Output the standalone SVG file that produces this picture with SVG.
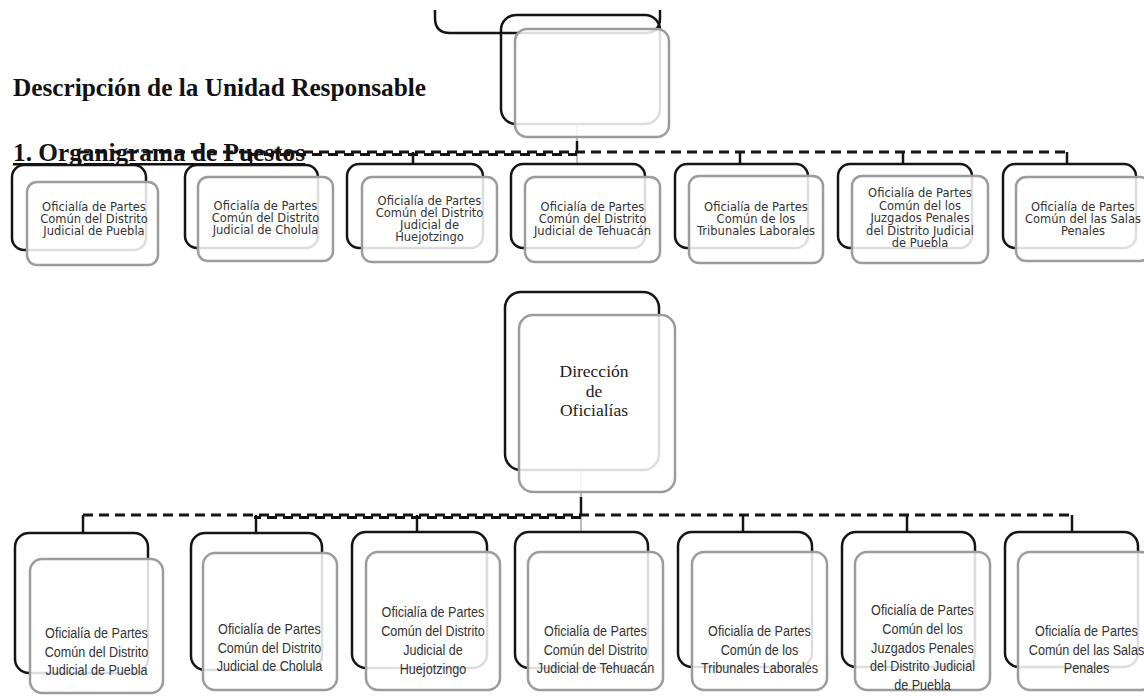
<svg xmlns="http://www.w3.org/2000/svg" width="1144" height="696" viewBox="0 0 1144 696">
<style>
.blk{fill:none;stroke:#141414;stroke-width:2.5}
.gry{fill:#fff;fill-opacity:0.86;stroke:#9c9c9c;stroke-width:2.5}
.dash{fill:none;stroke:#141414;stroke-width:3;stroke-dasharray:10 6}
.tick{stroke:#141414;stroke-width:2.5}
.faint{stroke:#bdbdbd;stroke-width:2}
.t1{font-family:"DejaVu Sans",sans-serif;font-size:11.5px;fill:#333;text-anchor:middle}
.t2{font-family:"Liberation Sans",Arial,sans-serif;font-size:14px;fill:#333;text-anchor:middle}
.tp{font-family:"Liberation Serif","Times New Roman",serif;font-size:17.5px;fill:#222;text-anchor:middle}
.h{font-family:"Liberation Serif","Times New Roman",serif;font-weight:bold;font-size:25px;fill:#111}
</style>
<rect width="1144" height="696" fill="#fff"/>
<g id="titles">
<text class="h" x="13" y="96" textLength="413" lengthAdjust="spacingAndGlyphs">Descripción de la Unidad Responsable</text>
<text class="h" x="13" y="161" textLength="292" lengthAdjust="spacingAndGlyphs" text-decoration="underline">1. Organigrama de Puestos</text>
</g>
<g id="connectors">
<line class="faint" x1="577" y1="124" x2="577" y2="164"/>
<line class="tick" x1="577" y1="141" x2="577" y2="152"/>
<line class="dash" x1="79" y1="152" x2="1067" y2="152"/>
<line class="dash" x1="251" y1="154.5" x2="577" y2="154.5" stroke-dashoffset="3"/>
<line class="tick" x1="79" y1="152" x2="79" y2="165"/>
<line class="tick" x1="251" y1="152" x2="251" y2="165"/>
<line class="tick" x1="413" y1="152" x2="413" y2="164"/>
<line class="tick" x1="740" y1="152" x2="740" y2="164"/>
<line class="tick" x1="903" y1="152" x2="903" y2="164"/>
<line class="tick" x1="1067" y1="152" x2="1067" y2="164"/>
<line class="faint" x1="581" y1="470" x2="581" y2="532"/>
<line class="tick" x1="581" y1="497" x2="581" y2="515"/>
<line class="dash" x1="83" y1="515" x2="1072" y2="515"/>
<line class="dash" x1="254" y1="517.5" x2="581" y2="517.5" stroke-dashoffset="3"/>
<line class="tick" x1="83" y1="515" x2="83" y2="533"/>
<line class="tick" x1="256" y1="515" x2="256" y2="533"/>
<line class="tick" x1="417" y1="515" x2="417" y2="532"/>
<line class="tick" x1="743" y1="515" x2="743" y2="532"/>
<line class="tick" x1="907" y1="515" x2="907" y2="532"/>
<line class="tick" x1="1072" y1="515" x2="1072" y2="532"/>
</g>
<g id="top-partial">
<path class="blk" d="M435,10 V18 Q435,33 450,33 H645 Q660,33 660,18 V10"/>
</g>
<g id="top-parent">
<rect class="blk" x="501" y="15" width="159" height="109" rx="15"/>
<rect class="gry" x="515" y="29" width="154" height="108" rx="12"/>
</g>
<g id="t1">
<rect class="blk" x="12" y="165" width="134" height="85" rx="12"/>
<rect class="gry" x="27" y="182" width="131" height="83" rx="10"/>
<text class="t1"><tspan x="94" y="211">Oficialía de Partes</tspan><tspan x="94" y="223">Común del Distrito</tspan><tspan x="94" y="235">Judicial de Puebla</tspan></text>
</g>
<g id="t2">
<rect class="blk" x="185" y="165" width="133" height="83" rx="12"/>
<rect class="gry" x="198" y="177" width="135" height="84" rx="10"/>
<text class="t1"><tspan x="265.5" y="210">Oficialía de Partes</tspan><tspan x="265.5" y="222">Común del Distrito</tspan><tspan x="265.5" y="234">Judicial de Cholula</tspan></text>
</g>
<g id="t3">
<rect class="blk" x="347" y="164" width="136" height="84" rx="12"/>
<rect class="gry" x="362" y="177" width="135" height="85" rx="10"/>
<text class="t1"><tspan x="429.5" y="205">Oficialía de Partes</tspan><tspan x="429.5" y="217">Común del Distrito</tspan><tspan x="429.5" y="229">Judicial de</tspan><tspan x="429.5" y="241">Huejotzingo</tspan></text>
</g>
<g id="t4">
<rect class="blk" x="511" y="164" width="134" height="84" rx="12"/>
<rect class="gry" x="525" y="177" width="135" height="85" rx="10"/>
<text class="t1"><tspan x="592.5" y="211">Oficialía de Partes</tspan><tspan x="592.5" y="223">Común del Distrito</tspan><tspan x="592.5" y="235">Judicial de Tehuacán</tspan></text>
</g>
<g id="t5">
<rect class="blk" x="675" y="164" width="133" height="84" rx="12"/>
<rect class="gry" x="689" y="176" width="134" height="87" rx="10"/>
<text class="t1"><tspan x="756" y="211">Oficialía de Partes</tspan><tspan x="756" y="223">Común de los</tspan><tspan x="756" y="235">Tribunales Laborales</tspan></text>
</g>
<g id="t6">
<rect class="blk" x="838" y="164" width="134" height="84" rx="12"/>
<rect class="gry" x="852" y="176" width="136" height="87" rx="10"/>
<text class="t1"><tspan x="920" y="197">Oficialía de Partes</tspan><tspan x="920" y="209.5">Común del los</tspan><tspan x="920" y="222">Juzgados Penales</tspan><tspan x="920" y="234.5">del Distrito Judicial</tspan><tspan x="920" y="247">de Puebla</tspan></text>
</g>
<g id="t7">
<rect class="blk" x="1003" y="164" width="133" height="84" rx="12"/>
<rect class="gry" x="1016" y="177" width="134" height="84" rx="10"/>
<text class="t1"><tspan x="1083" y="211">Oficialía de Partes</tspan><tspan x="1083" y="223">Común del las Salas</tspan><tspan x="1083" y="235">Penales</tspan></text>
</g>
<g id="direccion">
<rect class="blk" x="505" y="292" width="154" height="178" rx="16"/>
<rect class="gry" x="519" y="315" width="156" height="177" rx="14"/>
<text class="tp"><tspan x="594" y="377">Dirección</tspan><tspan x="594" y="397">de</tspan><tspan x="594" y="416">Oficialías</tspan></text>
</g>
<g id="b1">
<rect class="blk" x="15" y="533" width="133" height="140" rx="14"/>
<rect class="gry" x="30" y="559" width="133" height="134" rx="12"/>
<text class="t2" transform="translate(96.5 651) scale(0.9 1.1)"><tspan x="0" y="-12">Oficialía de Partes</tspan><tspan x="0" y="5">Común del Distrito</tspan><tspan x="0" y="22">Judicial de Puebla</tspan></text>
</g>
<g id="b2">
<rect class="blk" x="191" y="533" width="131" height="137" rx="14"/>
<rect class="gry" x="203" y="553" width="134" height="137" rx="12"/>
<text class="t2" transform="translate(269.5 647) scale(0.9 1.1)"><tspan x="0" y="-12">Oficialía de Partes</tspan><tspan x="0" y="5">Común del Distrito</tspan><tspan x="0" y="22">Judicial de Cholula</tspan></text>
</g>
<g id="b3">
<rect class="blk" x="352" y="532" width="135" height="136" rx="14"/>
<rect class="gry" x="366" y="552" width="134" height="138" rx="12"/>
<text class="t2" transform="translate(433 640) scale(0.9 1.1)"><tspan x="0" y="-20.5">Oficialía de Partes</tspan><tspan x="0" y="-3.5">Común del Distrito</tspan><tspan x="0" y="13.5">Judicial de</tspan><tspan x="0" y="30.5">Huejotzingo</tspan></text>
</g>
<g id="b4">
<rect class="blk" x="515" y="532" width="133" height="136" rx="14"/>
<rect class="gry" x="528" y="552" width="135" height="138" rx="12"/>
<text class="t2" transform="translate(595.5 649) scale(0.9 1.1)"><tspan x="0" y="-12">Oficialía de Partes</tspan><tspan x="0" y="5">Común del Distrito</tspan><tspan x="0" y="22">Judicial de Tehuacán</tspan></text>
</g>
<g id="b5">
<rect class="blk" x="678" y="532" width="134" height="135" rx="14"/>
<rect class="gry" x="692" y="552" width="135" height="138" rx="12"/>
<text class="t2" transform="translate(759.5 649) scale(0.9 1.1)"><tspan x="0" y="-12">Oficialía de Partes</tspan><tspan x="0" y="5">Común de los</tspan><tspan x="0" y="22">Tribunales Laborales</tspan></text>
</g>
<g id="b6">
<rect class="blk" x="842" y="532" width="133" height="135" rx="14"/>
<rect class="gry" x="855" y="552" width="135" height="138" rx="12"/>
<text class="t2" transform="translate(922.5 647) scale(0.9 1.1)"><tspan x="0" y="-29">Oficialía de Partes</tspan><tspan x="0" y="-12">Común del los</tspan><tspan x="0" y="5">Juzgados Penales</tspan><tspan x="0" y="22">del Distrito Judicial</tspan><tspan x="0" y="39">de Puebla</tspan></text>
</g>
<g id="b7">
<rect class="blk" x="1005" y="532" width="133" height="135" rx="14"/>
<rect class="gry" x="1018" y="552" width="135" height="138" rx="12"/>
<text class="t2" transform="translate(1086.5 649) scale(0.9 1.1)"><tspan x="0" y="-12">Oficialía de Partes</tspan><tspan x="0" y="5">Común del las Salas</tspan><tspan x="0" y="22">Penales</tspan></text>
</g>
</svg>
